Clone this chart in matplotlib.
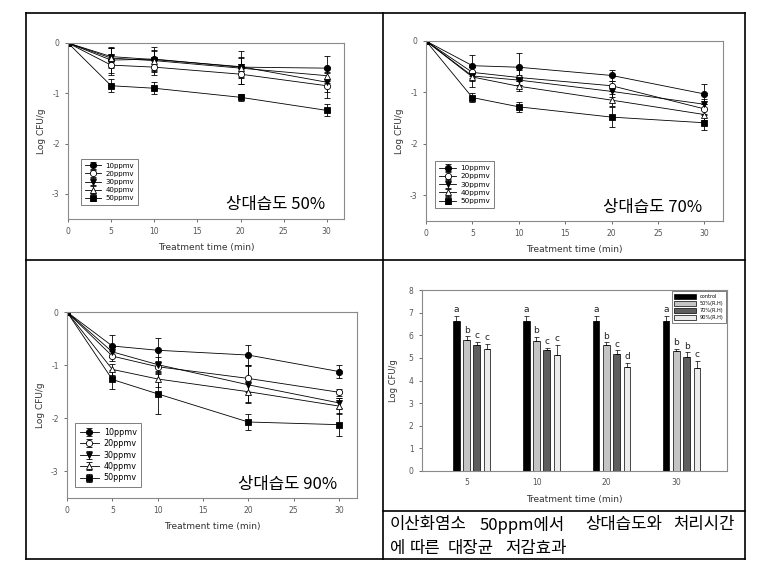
import matplotlib
matplotlib.use("Agg")
import matplotlib.pyplot as plt
from matplotlib.lines import Line2D
import numpy as np

plt.rcParams['font.family'] = ['DejaVu Sans', 'Noto Sans CJK KR']

W, H = 781, 574

# ---------------- data ----------------
times = [0, 5, 10, 20, 30]
series_labels = ["10ppmv", "20ppmv", "30ppmv", "40ppmv", "50ppmv"]

rh50_means = {
    "10ppmv": [0, -0.34, -0.32, -0.48, -0.50],
    "20ppmv": [0, -0.44, -0.48, -0.62, -0.85],
    "30ppmv": [0, -0.27, -0.33, -0.47, -0.78],
    "40ppmv": [0, -0.30, -0.35, -0.50, -0.65],
    "50ppmv": [0, -0.85, -0.90, -1.08, -1.34],
}
rh50_err = {
    "10ppmv": [0, 0.25, 0.25, 0.33, 0.25],
    "20ppmv": [0, 0.20, 0.15, 0.20, 0.25],
    "30ppmv": [0, 0.20, 0.20, 0.20, 0.20],
    "40ppmv": [0, 0.20, 0.20, 0.20, 0.15],
    "50ppmv": [0, 0.13, 0.12, 0.07, 0.12],
}
rh70_means = {
    "10ppmv": [0, -0.48, -0.51, -0.67, -1.03],
    "20ppmv": [0, -0.61, -0.71, -0.87, -1.32],
    "30ppmv": [0, -0.68, -0.76, -0.98, -1.23],
    "40ppmv": [0, -0.70, -0.88, -1.15, -1.43],
    "50ppmv": [0, -1.10, -1.28, -1.48, -1.59],
}
rh70_err = {
    "10ppmv": [0, 0.20, 0.27, 0.10, 0.20],
    "20ppmv": [0, 0.10, 0.15, 0.10, 0.10],
    "30ppmv": [0, 0.10, 0.10, 0.10, 0.10],
    "40ppmv": [0, 0.20, 0.10, 0.12, 0.10],
    "50ppmv": [0, 0.08, 0.10, 0.20, 0.15],
}
rh90_means = {
    "10ppmv": [0, -0.64, -0.72, -0.81, -1.12],
    "20ppmv": [0, -0.83, -1.03, -1.25, -1.51],
    "30ppmv": [0, -0.75, -0.99, -1.37, -1.71],
    "40ppmv": [0, -1.08, -1.26, -1.50, -1.77],
    "50ppmv": [0, -1.27, -1.54, -2.07, -2.12],
}
rh90_err = {
    "10ppmv": [0, 0.20, 0.23, 0.18, 0.12],
    "20ppmv": [0, 0.10, 0.10, 0.25, 0.07],
    "30ppmv": [0, 0.10, 0.15, 0.35, 0.10],
    "40ppmv": [0, 0.10, 0.15, 0.20, 0.15],
    "50ppmv": [0, 0.17, 0.37, 0.15, 0.22],
}

bar_categories = ["5", "10", "20", "30"]
bar_groups = ["control", "50%(R.H)", "70%(R.H)", "90%(R.H)"]
bar_values = {
    "control":  [6.65, 6.65, 6.65, 6.65],
    "50%(R.H)": [5.80, 5.75, 5.58, 5.30],
    "70%(R.H)": [5.57, 5.35, 5.18, 5.04],
    "90%(R.H)": [5.38, 5.13, 4.58, 4.55],
}
bar_err = {
    "control":  [0.20, 0.20, 0.20, 0.20],
    "50%(R.H)": [0.15, 0.17, 0.10, 0.10],
    "70%(R.H)": [0.15, 0.10, 0.15, 0.20],
    "90%(R.H)": [0.25, 0.45, 0.20, 0.30],
}
bar_letters = {
    "control":  ["a", "a", "a", "a"],
    "50%(R.H)": ["b", "b", "b", "b"],
    "70%(R.H)": ["c", "c", "c", "b"],
    "90%(R.H)": ["c", "c", "d", "c"],
}

caption_line1 = ["이산화염소", "50ppm에서", "상대습도와", "처리시간"]
caption_line2 = ["에", "따른", "대장균", "저감효과"]

# ---------------- styles ----------------
markers = {
    "10ppmv": dict(marker="o", mfc="black"),
    "20ppmv": dict(marker="o", mfc="white"),
    "30ppmv": dict(marker="v", mfc="black"),
    "40ppmv": dict(marker="^", mfc="white"),
    "50ppmv": dict(marker="s", mfc="black"),
}
bar_colors = {"control": "#000000", "50%(R.H)": "#c4c4c4",
              "70%(R.H)": "#5e5e5e", "90%(R.H)": "#ececec"}
KR = ["Noto Sans CJK KR", "DejaVu Sans"]

fig = plt.figure(figsize=(W / 100, H / 100), dpi=100)


def add_ax(left, right, top, bottom):
    return fig.add_axes([left / W, 1 - bottom / H, (right - left) / W, (bottom - top) / H])


def style_ax(ax):
    for s in ax.spines.values():
        s.set_color("#8a8a8a")
        s.set_linewidth(0.8)
    ax.tick_params(axis="both", labelsize=5.5, colors="#555555", length=2.5, width=0.6,
                   direction="out", top=False, right=False)


def line_panel(ax, means, errs, label_text, legend_fs, leg_anchor, label_xy):
    for name in series_labels:
        ax.errorbar(times, means[name], yerr=errs[name], color="black", lw=0.6,
                    elinewidth=0.6, capsize=2.2, capthick=0.6,
                    markersize=4.5, mec="black", mew=0.6, label=name, **markers[name])
    ax.set_xlim(0, 32)
    ax.set_ylim(-3.5, 0)
    ax.set_xticks([0, 5, 10, 15, 20, 25, 30])
    ax.set_yticks([0, -1, -2, -3])
    ax.set_yticklabels(["0", "-1", "-2", "-3"])
    ax.set_xlabel("Treatment time (min)", fontsize=6.5, color="#333333", labelpad=5)
    ax.set_ylabel("Log CFU/g", fontsize=6.5, color="#333333", labelpad=4)
    style_ax(ax)
    leg = ax.legend(loc="lower left", bbox_to_anchor=leg_anchor, borderaxespad=0,
                    fontsize=legend_fs, frameon=True, fancybox=False, edgecolor="#444444",
                    handlelength=2.4, labelspacing=0.3, borderpad=0.55, handletextpad=0.6)
    leg.get_frame().set_linewidth(0.6)
    ax.text(label_xy[0], label_xy[1], label_text, transform=ax.transAxes, ha="right",
            va="center", fontsize=12, family=KR)


ax1 = add_ax(68, 344, 43, 219)
line_panel(ax1, rh50_means, rh50_err, "상대습도 50%", 5.0, (0.047, 0.08), (0.93, 0.08))
ax2 = add_ax(426, 723, 41, 221)
line_panel(ax2, rh70_means, rh70_err, "상대습도 70%", 5.2, (0.03, 0.072), (0.93, 0.075))
ax3 = add_ax(67, 357, 312, 498)
line_panel(ax3, rh90_means, rh90_err, "상대습도 90%", 5.8, (0.028, 0.06), (0.93, 0.075))

# bar panel
ax4 = add_ax(422, 727, 290, 471)
x = np.arange(len(bar_categories))
bw = 0.095
step = 0.147
for i, g in enumerate(bar_groups):
    pos = x + (i - 1.5) * step + 0.07
    ax4.bar(pos, bar_values[g], width=bw, color=bar_colors[g], edgecolor="black",
            linewidth=0.5, label=g, zorder=2)
    ax4.errorbar(pos, bar_values[g], yerr=[np.zeros(4), bar_err[g]], fmt="none",
                 ecolor="black", elinewidth=0.5, capsize=1.8, capthick=0.5, zorder=3)
    for p, v, e, t in zip(pos, bar_values[g], bar_err[g], bar_letters[g]):
        ax4.text(p, v + e + 0.08, t, ha="center", va="bottom", fontsize=6.5, color="#222222")
ax4.set_xlim(-0.64, 3.72)
ax4.set_ylim(0, 8)
ax4.set_xticks(x)
ax4.set_xticklabels(bar_categories)
ax4.set_yticks(range(0, 9))
ax4.set_xlabel("Treatment time (min)", fontsize=6.5, color="#333333", labelpad=6)
ax4.set_ylabel("Log CFU/g", fontsize=6, color="#333333", labelpad=8)
style_ax(ax4)
ax4.tick_params(axis="x", length=0, pad=5)
leg4 = ax4.legend(loc="upper right", fontsize=3.6, frameon=True, fancybox=False,
                  edgecolor="#444444", handlelength=4.3, handleheight=1.2,
                  labelspacing=0.35, borderpad=0.55, borderaxespad=0.15)
leg4.get_frame().set_linewidth(0.6)

# table lines
def fig_line(x0, y0, x1, y1):
    fig.add_artist(Line2D([x0 / W, x1 / W], [1 - y0 / H, 1 - y1 / H],
                          color="black", lw=1.2, transform=fig.transFigure))

L, R, T, B = 26, 745, 13, 559
MX, MY, CY = 383, 260, 511
fig_line(L, T, R, T)
fig_line(L, B, R, B)
fig_line(L, T, L, B)
fig_line(R, T, R, B)
fig_line(MX, T, MX, B)
fig_line(L, MY, R, MY)
fig_line(MX, CY, R, CY)

for word, xp in zip(caption_line1, [390, 480, 585, 673]):
    fig.text(xp / W, 1 - 525 / H, word, ha="left", va="center", fontsize=12, family=KR)
for word, xp in zip(caption_line2, [390, 410, 448, 505]):
    fig.text(xp / W, 1 - 549 / H, word, ha="left", va="center", fontsize=12, family=KR)

fig.savefig("out.png", dpi=100)
